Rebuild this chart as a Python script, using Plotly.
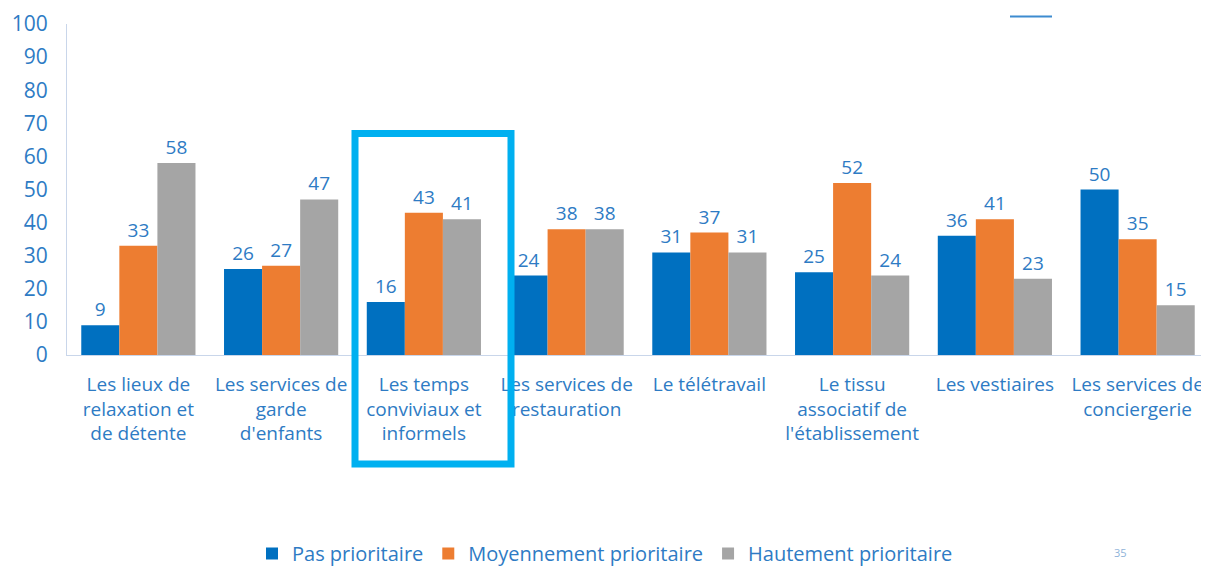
import plotly.graph_objects as go

categories = [
    "Les lieux de<br>relaxation et<br>de détente",
    "Les services de<br>garde<br>d'enfants",
    "Les temps<br>conviviaux et<br>informels",
    "Les services de<br>restauration",
    "Le télétravail",
    "Le tissu<br>associatif de<br>l'établissement",
    "Les vestiaires",
    "Les services de<br>conciergerie",
]
pas_prioritaire = [9, 26, 16, 24, 31, 25, 36, 50]
moyennement_prioritaire = [33, 27, 43, 38, 37, 52, 41, 35]
hautement_prioritaire = [58, 47, 41, 38, 31, 24, 23, 15]
series_names = ["Pas prioritaire", "Moyennement prioritaire", "Hautement prioritaire"]
series_colors = ["#0070C0", "#ED7D31", "#A5A5A5"]
y_ticks = [0, 10, 20, 30, 40, 50, 60, 70, 80, 90, 100]

text_color = "#2E7BC4"
font_family = "'Open Sans', Lato, sans-serif"

# page body has an 8px margin: figure origin sits at screen (8, 8)
OFF = 8
W, H = 1209 - OFF, 571 - OFF
L = 67 - OFF
T = 24 - OFF
B = H - (355 - OFF)
PW = W - L
PH = H - T - B


def px_x(xs):
    return (xs - OFF - L) / PW


def px_y(ys):
    return (H - B - (ys - OFF)) / PH


fig = go.Figure()
for name, vals, col in zip(series_names,
                           [pas_prioritaire, moyennement_prioritaire, hautement_prioritaire],
                           series_colors):
    fig.add_trace(go.Bar(
        x=list(range(len(categories))), y=vals, name=name,
        marker=dict(color=col, line=dict(width=0)),
        text=[str(v) for v in vals], textposition="outside",
        textfont=dict(color=text_color, size=19, family=font_family),
        cliponaxis=False,
    ))

fig.update_layout(
    width=W, height=H,
    margin=dict(l=L, r=0, t=T, b=B, autoexpand=False),
    paper_bgcolor="white", plot_bgcolor="white",
    barmode="group", bargap=0.2, bargroupgap=0,
    font=dict(family=font_family, color=text_color),
    showlegend=True,
    legend=dict(orientation="h", x=px_x(605), xanchor="center", y=px_y(534), yanchor="top",
                font=dict(size=20, color=text_color, family=font_family),
                traceorder="normal", itemwidth=30),
    xaxis=dict(
        tickmode="array", tickvals=list(range(len(categories))), ticktext=categories,
        range=[-0.5, len(categories) - 0.5], automargin=False,
        showline=True, linecolor="#C9D6EA", linewidth=1, showgrid=False,
        ticks="", ticklabelstandoff=12,
        tickfont=dict(size=19, color=text_color, family=font_family),
    ),
    yaxis=dict(
        range=[0, 100], tickvals=y_ticks, showgrid=False, zeroline=False,
        showline=True, linecolor="#C9D6EA", linewidth=1, automargin=False,
        ticks="", ticklabelstandoff=14,
        tickfont=dict(size=21, color=text_color, family=font_family),
    ),
)

# highlight box around "Les temps conviviaux et informels"
fig.add_shape(type="rect", xref="paper", yref="paper",
              x0=px_x(355), x1=px_x(511), y0=px_y(464), y1=px_y(133.5),
              line=dict(color="#00B0F0", width=7), fillcolor="rgba(0,0,0,0)", layer="above")

# small decorative line top right
fig.add_shape(type="line", xref="paper", yref="paper",
              x0=px_x(1010), x1=px_x(1052), y0=px_y(16.5), y1=px_y(16.5),
              line=dict(color="#3D8BD0", width=2))

# page number
fig.add_annotation(text="35", xref="paper", yref="paper",
                   x=px_x(1120), y=px_y(552), xanchor="center", yanchor="middle",
                   showarrow=False, font=dict(size=11, color="#8FB3D9", family=font_family))

fig.write_html("out.html")
